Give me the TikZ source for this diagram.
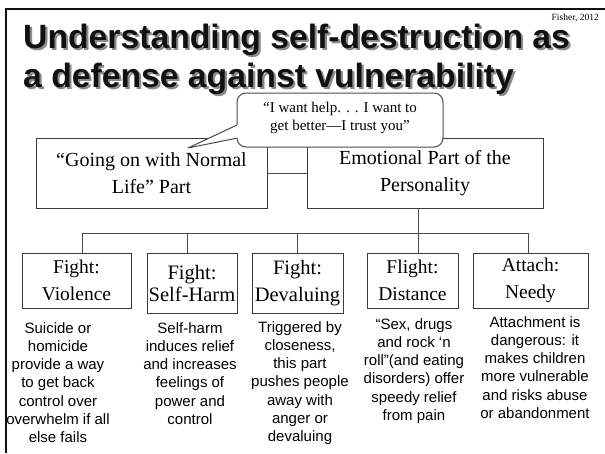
\documentclass[tikz,border=0pt]{standalone}
\usepackage{fontspec}
\setmainfont{Liberation Serif}
\newfontfamily\arialfont{Liberation Sans}
\usepackage{xcolor}
\definecolor{ink}{HTML}{111111}
\definecolor{boxline}{HTML}{3A3A3A}
\definecolor{linkcol}{HTML}{4A4A4A}
\definecolor{titleshade}{HTML}{8A8A8A}
\usetikzlibrary{calc,positioning}
% title text with its grey drop shadow, set in one box
\newcommand{\shadowtext}[1]{\rlap{\hspace{2.2pt}\raisebox{-2.2pt}{\textcolor{titleshade}{#1}}}\textcolor{ink}{#1}}

\begin{document}
\begin{tikzpicture}[x=1pt, y=-1pt,
	heading/.style={anchor=base west, inner sep=0pt, font=\arialfont\bfseries\fontsize{33.7}{40}\selectfont},
	part/.style={draw=boxline, line width=1pt, inner sep=0pt, align=center, font=\fontsize{20}{27}\selectfont},
	fightbox/.style={draw=boxline, line width=1pt, inner sep=0pt, align=center, font=\fontsize{19.5}{27}\selectfont},
	note/.style={anchor=north, inner sep=0pt, align=center, font=\arialfont\fontsize{15}{18.3}\selectfont},
	link/.style={draw=linkcol, line width=1pt}
	]

	\useasboundingbox (0,0) rectangle (605,453);

	% ================= Frame and title =================
	\draw[ink, line width=2.6pt] (6,453) -- (6,9) -- (605,9);

	\node[anchor=base east, inner sep=0pt, font=\fontsize{9.5}{11}\selectfont] (cite) at (599,20) {Fisher, 2012};

	\node[heading] (titleA) at (23,48) {\shadowtext{Understanding self-destruction as}};
	\node[heading] (titleB) at (23,87) {\shadowtext{a defense against vulnerability}};

	% ================= Two parts of the personality =================
	\node[part, minimum width=231, minimum height=70] (normal) at (151.5,173)
		{“Going on with Normal\\Life” Part};
	\node[part, minimum width=236, minimum height=70] (emo) at (425,173)
		{Emotional Part of the\\Personality};

	\draw[link] (normal.east) -- (emo.west);

	% ================= Defences =================
	\node[fightbox, minimum width=109, minimum height=55] (violence) at (76.5,280.5) {Fight:\\Violence};
	\node[fightbox, minimum width=90, minimum height=60, font=\fontsize{20.5}{22}\selectfont] (selfharm) at (192,283) {Fight:\\Self-Harm};
	\node[fightbox, minimum width=91, minimum height=60, font=\fontsize{20.5}{27}\selectfont] (devaluing) at (297.5,283) {Fight:\\Devaluing};
	\node[fightbox, minimum width=91, minimum height=55] (distance) at (412.5,280.5) {Flight:\\Distance};
	\node[fightbox, minimum width=115, minimum height=55] (needy) at (530.5,280.5) {Attach:\\Needy};

	\coordinate (trunk) at (418,233);
	\coordinate (busL) at (82,233);
	\coordinate (busR) at (528,233);

	\draw[link] (trunk |- emo.south) -- (trunk);
	\draw[link] (busL) -- (busR);
	\foreach \part/\x in {violence/82, selfharm/187, devaluing/297, distance/418, needy/528}{
		\draw[link] (\x,233) -- (\x,0 |- \part.north);
	}

	\node[note] (violenceTxt) at (58,322)
		{Suicide or\\homicide\\provide a way\\to get back\\control over\\overwhelm if all\\else fails};
	\node[note] (selfharmTxt) at (190,322)
		{Self-harm\\induces relief\\and increases\\feelings of\\power and\\control};
	\node[note] (devaluingTxt) at (300,321)
		{Triggered by\\closeness,\\this part\\pushes people\\away with\\anger or\\devaluing};
	\node[note] (distanceTxt) at (414,318)
		{“Sex, drugs\\and rock ‘n\\roll”(and eating\\disorders) offer\\speedy relief\\from pain};
	\node[note] (needyTxt) at (535,316)
		{Attachment is\\dangerous: it\\makes children\\more vulnerable\\and risks abuse\\or abandonment};

	% ================= Callout =================
	\coordinate (tip) at (188,148);
	\draw[link, fill=white, rounded corners=9pt] (237,93) rectangle (443,147);
	\fill[white] (238.2,124.5) -- (tip) -- (238.2,138.5) -- cycle;
	\draw[link, line join=round] (237,125) -- (tip) -- (237.5,138);

	\node[inner sep=0pt, align=center, font=\fontsize{15}{18}\selectfont] (help) at (340,117.5)
		{“I want help. . . I want to\\get better—I trust you”};

\end{tikzpicture}
\end{document}
